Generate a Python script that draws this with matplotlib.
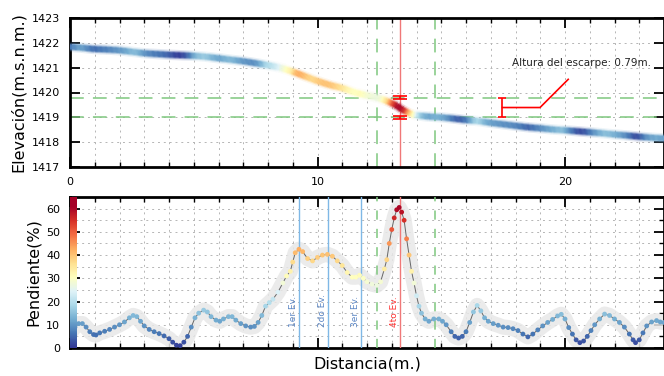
import numpy as np
import matplotlib
matplotlib.use('Agg')
import matplotlib.pyplot as plt
from matplotlib.collections import LineCollection
from matplotlib.colors import Normalize
from matplotlib.ticker import MultipleLocator

# ---------------- data ----------------
dist_slope = [0.0, 0.1, 0.2, 0.35, 0.5, 0.65, 0.8, 0.95, 1.05, 1.2, 1.4, 1.6, 1.8, 2.0, 2.2, 2.4,
              2.55, 2.7, 2.85, 3.0, 3.2, 3.4, 3.6, 3.8, 4.0, 4.15, 4.3, 4.45, 4.6, 4.75, 4.9, 5.05,
              5.2, 5.4, 5.55, 5.7, 5.9, 6.05, 6.2, 6.4, 6.55, 6.7, 6.9, 7.1, 7.3, 7.45, 7.6, 7.75,
              7.9, 8.05, 8.2, 8.4, 8.6, 8.75, 8.9, 9.0, 9.1, 9.25, 9.4, 9.6, 9.8, 10.0, 10.2, 10.4,
              10.6, 10.8, 11.0, 11.2, 11.4, 11.55, 11.7, 11.85, 12.0, 12.2, 12.4, 12.55, 12.7, 12.8,
              12.9, 13.0, 13.1, 13.2, 13.3, 13.4, 13.5, 13.6, 13.7, 13.8, 13.9, 14.0, 14.1, 14.2,
              14.35, 14.5, 14.7, 14.9, 15.05, 15.2, 15.4, 15.55, 15.7, 15.85, 16.0, 16.15, 16.3,
              16.45, 16.6, 16.75, 16.9, 17.1, 17.3, 17.5, 17.7, 17.9, 18.1, 18.3, 18.5, 18.7, 18.9,
              19.1, 19.3, 19.5, 19.7, 19.85, 20.0, 20.15, 20.3, 20.45, 20.6, 20.75, 20.9, 21.05,
              21.2, 21.4, 21.6, 21.8, 22.0, 22.2, 22.4, 22.6, 22.75, 22.85, 23.0, 23.15, 23.3,
              23.5, 23.7, 23.85, 24.0]
slope = [6, 8, 9, 10.5, 10.5, 9, 7, 5.8, 5.6, 6.5, 7.2, 8, 9, 10, 11.2, 13,
         14, 13.5, 11.5, 9.5, 8, 7, 6.2, 5.2, 4, 2.5, 1.2, 1.0, 2.5, 5, 9, 13,
         15, 16.3, 15.5, 13.5, 12, 11.5, 12.5, 13.5, 13.5, 12, 10.5, 9.5, 9, 9.3, 11, 14,
         18, 19.5, 21, 24, 28, 31, 33, 37, 41, 42.5, 41.5, 38.5, 37.5, 39, 40, 40.3,
         39.5, 37.5, 35.5, 32.5, 30.5, 30.5, 31.3, 30, 28.5, 27.5, 27, 28.5, 34, 38,
         45, 51, 56, 59.5, 60.5, 58.5, 55, 47, 40, 33, 28, 22.5, 18, 15,
         12.5, 11.5, 12.5, 12.5, 11.5, 10, 7, 5, 4.3, 5, 7, 11, 15.5,
         18.3, 16, 13, 11.5, 10.5, 9.8, 9, 8.8, 8.3, 7.5, 6, 4.8, 6, 7.8,
         9.5, 11, 12.3, 13.8, 14.5, 12.5, 8.8, 6, 3.5, 2.3, 3, 5, 7.5,
         10, 12.5, 14.6, 14, 12.5, 11, 9, 6, 3.5, 2.3, 3.5, 6.5, 9.5,
         11.2, 11.8, 11.2, 11]

dist_elev = [0.0, 0.5, 1.0, 1.5, 2.0, 2.5, 3.0, 3.5, 4.0, 4.5, 5.0, 5.5, 6.0, 6.5, 7.0, 7.5,
             8.0, 8.5, 9.0, 9.5, 10.0, 10.5, 11.0, 11.5, 12.0, 12.4, 12.8, 13.0, 13.2, 13.4,
             13.6, 13.8, 14.0, 14.5, 15.0, 15.5, 16.0, 16.5, 17.0, 17.5, 18.0, 18.5, 19.0,
             19.5, 20.0, 20.5, 21.0, 21.5, 22.0, 22.5, 23.0, 23.5, 24.0]
elev = [1421.84, 1421.80, 1421.75, 1421.73, 1421.70, 1421.64, 1421.58, 1421.55, 1421.52,
        1421.50, 1421.48, 1421.44, 1421.38, 1421.32, 1421.26, 1421.18, 1421.10, 1421.00,
        1420.84, 1420.65, 1420.46, 1420.30, 1420.18, 1420.00, 1419.88, 1419.80, 1419.66,
        1419.57, 1419.47, 1419.32, 1419.22, 1419.12, 1419.08, 1419.03, 1419.00, 1418.95,
        1418.89, 1418.85, 1418.78, 1418.72, 1418.66, 1418.60, 1418.56, 1418.51, 1418.48,
        1418.44, 1418.40, 1418.36, 1418.31, 1418.27, 1418.22, 1418.18, 1418.15]

event_x = [9.25, 10.41, 11.74]
event_labels = ['1er Ev.', '2do Ev.', '3er Ev.']
scarp_x = 13.33
scarp_label = '4to Ev.'
bounds_x = [12.42, 14.73]
scarp_top = 1419.79
scarp_bot = 1419.00
bracket_x = 17.47
annot_xy = (20.13, 1420.53)
annot_knee_x = 18.99
annot_text_xy = (17.84, 1421.19)

# ---------------- style ----------------
cmap = plt.get_cmap('RdYlBu_r')
norm = Normalize(vmin=0, vmax=61)
green = '#7fc77f'
red_line = '#f07878'
blue_line = '#7fb8e6'
ev_blue = '#5b86c4'

fig = plt.figure(figsize=(6.64, 3.76), dpi=100)
ax1 = fig.add_axes([70/664, 1-167/376, (664-70)/664, (167-18)/376])
ax2 = fig.add_axes([70/664, 1-348/376, (664-70)/664, (348-197)/376])

for ax in (ax1, ax2):
    ax.tick_params(which='both', direction='in', top=True, right=True, labelsize=8)
    ax.tick_params(which='major', length=7, width=1.3, pad=7)
    ax.tick_params(which='minor', length=3.5, width=1)
    for s in ax.spines.values():
        s.set_linewidth(2)
    ax.xaxis.set_major_locator(MultipleLocator(10))
    ax.xaxis.set_minor_locator(MultipleLocator(1))
    ax.grid(which='both', ls=(0, (2, 4)), color='#b5b5b5', lw=0.7, zorder=0)
    ax.set_axisbelow(True)

# ---------------- top panel ----------------
xe = np.array(dist_elev)
ye = np.array(elev)
# split each straight segment into sub-pieces only to vary its colour finely
sub = 10
t = np.linspace(0, 1, sub + 1)
segs = []
mids = []
for i in range(len(xe) - 1):
    xs = xe[i] + (xe[i + 1] - xe[i]) * t
    ys = ye[i] + (ye[i + 1] - ye[i]) * t
    for j in range(sub):
        segs.append([[xs[j], ys[j]], [xs[j + 1], ys[j + 1]]])
        mids.append((xs[j] + xs[j + 1]) / 2)
segs = np.array(segs)
seg_slope = np.interp(mids, dist_slope, slope)
cols = cmap(norm(seg_slope))
for lw, a in [(7.5, 0.15), (5.5, 0.45), (4, 0.85), (2.8, 1.0)]:
    c = cols.copy()
    c[:, 3] = a
    lc = LineCollection(segs, colors=c, linewidths=lw, capstyle='butt', zorder=3)
    ax1.add_collection(lc)

for y in (scarp_top, scarp_bot):
    ax1.axhline(y, color=green, lw=1.1, dashes=(9, 6), zorder=2)
for x in bounds_x:
    ax1.axvline(x, color=green, lw=1.1, dashes=(9, 6), zorder=2)
ax1.axvline(scarp_x, color=red_line, lw=1, zorder=2)
ax1.errorbar([scarp_x, scarp_x], [scarp_top, scarp_bot], yerr=0.07, fmt='none',
             ecolor='red', capsize=5, elinewidth=1.2, capthick=1.2, zorder=4)

# bracket & annotation
ax1.errorbar([bracket_x], [(scarp_top + scarp_bot) / 2], yerr=[(scarp_top - scarp_bot) / 2],
             fmt='none', ecolor='red', capsize=3, elinewidth=1.2, capthick=1.2, zorder=4)
ax1.plot([bracket_x, annot_knee_x, annot_xy[0]],
         [(scarp_top + scarp_bot) / 2, (scarp_top + scarp_bot) / 2, annot_xy[1]],
         color='red', lw=1.2, zorder=4)
ax1.text(annot_text_xy[0], annot_text_xy[1],
         'Altura del escarpe: %.2fm.' % (scarp_top - scarp_bot),
         fontsize=7.5, ha='left', va='center', color='#222222')

ax1.set_xlim(0, 24)
ax1.set_ylim(1417, 1423)
ax1.yaxis.set_major_locator(MultipleLocator(1))
ax1.yaxis.get_major_formatter().set_useOffset(False)
ax1.set_ylabel('Elevación(m.s.n.m.)', fontsize=11.5)

# ---------------- bottom panel ----------------
ax2.plot(dist_slope, slope, color='#e8e8e8', lw=11, solid_capstyle='round',
         solid_joinstyle='round', alpha=0.85, zorder=2)
ax2.plot(dist_slope, slope, color='#666666', lw=0.7, zorder=3)
ax2.scatter(dist_slope, slope, c=slope, cmap=cmap, norm=norm, s=12,
            edgecolors='none', zorder=4)

for x, lab in zip(event_x, event_labels):
    ax2.axvline(x, color=blue_line, lw=1, zorder=3)
    ax2.text(x - 0.2, 9, lab, rotation=90, fontsize=6.5, color=ev_blue,
             ha='center', va='bottom', zorder=5)
for x in bounds_x:
    ax2.axvline(x, color=green, lw=1.1, dashes=(6, 6), zorder=3)
ax2.axvline(scarp_x, color=red_line, lw=1, zorder=3)
ax2.text(scarp_x - 0.2, 9, scarp_label, rotation=90, fontsize=6.5, color='#ff3333',
         ha='center', va='bottom', zorder=5)

grad = np.linspace(0, 65, 256).reshape(-1, 1)
ax2.imshow(grad, extent=[0, 0.25, 0, 65], origin='lower', aspect='auto',
           cmap=cmap, norm=norm, zorder=5)

ax2.set_xlim(0, 24)
ax2.set_ylim(0, 65)
ax2.yaxis.set_major_locator(MultipleLocator(10))
ax2.yaxis.set_minor_locator(MultipleLocator(5))
ax2.tick_params(labelbottom=False)
ax2.set_ylabel('Pendiente(%)', fontsize=11.5)
ax2.set_xlabel('Distancia(m.)', fontsize=11.5, labelpad=3)

fig.savefig('out.png', dpi=100)
